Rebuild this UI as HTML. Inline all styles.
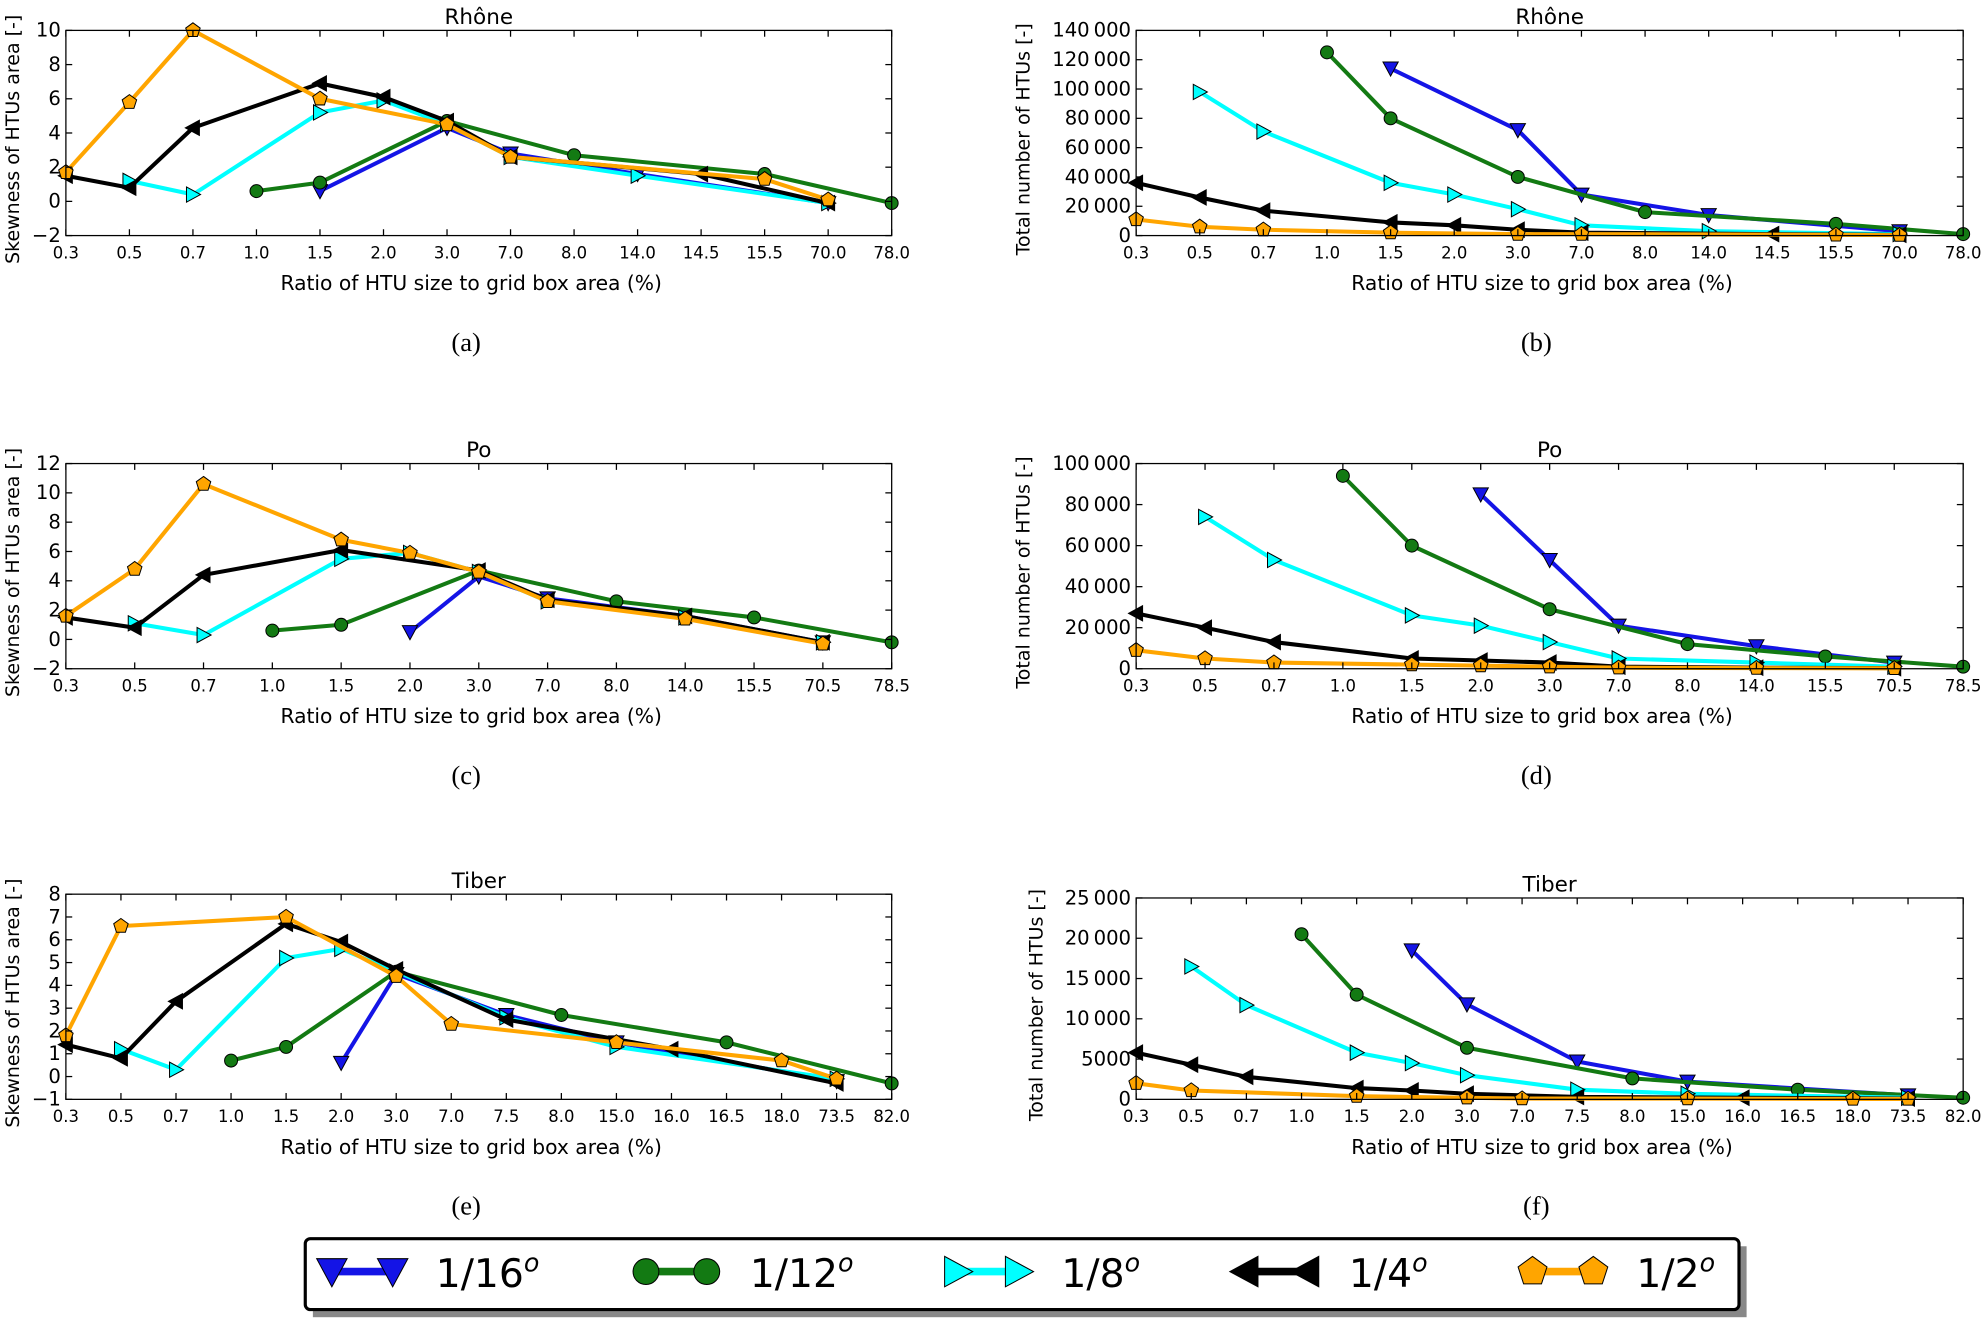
<!DOCTYPE html>
<html><head><meta charset="utf-8"><style>
html,body{margin:0;padding:0;background:#fff}
svg{display:block}
text{font-family:"DejaVu Sans","Liberation Sans",sans-serif}
</style></head><body>
<svg id="fig" width="1986" height="1321" viewBox="0 0 1568 1043" xmlns="http://www.w3.org/2000/svg"></svg>
<script>
// ---- data ----
const catsRhone = ["0.3","0.5","0.7","1.0","1.5","2.0","3.0","7.0","8.0","14.0","14.5","15.5","70.0","78.0"];
const catsPo = ["0.3","0.5","0.7","1.0","1.5","2.0","3.0","7.0","8.0","14.0","15.5","70.5","78.5"];
const catsTiber = ["0.3","0.5","0.7","1.0","1.5","2.0","3.0","7.0","7.5","8.0","15.0","16.0","16.5","18.0","73.5","82.0"];
const seriesNames = ["1/16","1/12","1/8","1/4","1/2"];
// each series: [[categoryIndex, value], ...]
const skewRhone16 = [[4,0.6],[6,4.3],[7,2.8],[9,1.6],[12,-0.1]];
const skewRhone12 = [[3,0.6],[4,1.1],[6,4.7],[8,2.7],[11,1.6],[13,-0.1]];
const skewRhone8 = [[1,1.2],[2,0.4],[4,5.2],[5,5.9],[6,4.5],[7,2.6],[9,1.5],[12,-0.1]];
const skewRhone4 = [[0,1.5],[1,0.8],[2,4.3],[4,6.9],[5,6.1],[6,4.7],[7,2.6],[10,1.6],[12,-0.1]];
const skewRhone2 = [[0,1.7],[1,5.8],[2,10],[4,6.0],[6,4.5],[7,2.6],[11,1.3],[12,0.1]];
const numRhone16 = [[4,114000],[6,72000],[7,28000],[9,14000],[12,3000]];
const numRhone12 = [[3,125000],[4,80000],[6,40000],[8,16000],[11,8000],[13,1000]];
const numRhone8 = [[1,98000],[2,71000],[4,36000],[5,28000],[6,18000],[7,7000],[9,3000],[12,1000]];
const numRhone4 = [[0,36000],[1,26000],[2,17000],[4,9000],[5,7000],[6,4000],[7,2000],[10,1000],[12,500]];
const numRhone2 = [[0,11000],[1,6000],[2,4000],[4,2000],[6,1000],[7,1000],[11,500],[12,300]];
const skewPo16 = [[5,0.5],[6,4.3],[7,2.8],[9,1.6],[11,-0.2]];
const skewPo12 = [[3,0.6],[4,1.0],[6,4.7],[8,2.6],[10,1.5],[12,-0.2]];
const skewPo8 = [[1,1.1],[2,0.3],[4,5.5],[5,5.9],[6,4.6],[7,2.6],[9,1.5],[11,-0.2]];
const skewPo4 = [[0,1.5],[1,0.8],[2,4.4],[4,6.1],[6,4.7],[7,2.7],[9,1.6],[11,-0.2]];
const skewPo2 = [[0,1.6],[1,4.8],[2,10.6],[4,6.8],[5,5.9],[6,4.6],[7,2.6],[9,1.4],[11,-0.3]];
const numPo16 = [[5,85000],[6,53000],[7,21000],[9,11000],[11,3000]];
const numPo12 = [[3,94000],[4,60000],[6,29000],[8,12000],[10,6000],[12,1000]];
const numPo8 = [[1,74000],[2,53000],[4,26000],[5,21000],[6,13000],[7,5000],[9,3000],[11,1000]];
const numPo4 = [[0,27000],[1,20000],[2,13000],[4,5000],[5,4000],[6,3000],[7,1000],[9,500],[11,300]];
const numPo2 = [[0,9000],[1,5000],[2,3000],[4,2000],[5,1500],[6,1000],[7,500],[9,300],[11,200]];
const skewTiber16 = [[5,0.6],[6,4.5],[8,2.7],[10,1.5],[14,-0.2]];
const skewTiber12 = [[3,0.7],[4,1.3],[6,4.6],[9,2.7],[12,1.5],[15,-0.3]];
const skewTiber8 = [[1,1.2],[2,0.3],[4,5.2],[5,5.6],[6,4.6],[8,2.6],[10,1.3],[14,-0.1]];
const skewTiber4 = [[0,1.4],[1,0.8],[2,3.3],[4,6.7],[5,5.9],[6,4.7],[8,2.5],[11,1.2],[14,-0.3]];
const skewTiber2 = [[0,1.8],[1,6.6],[4,7.0],[6,4.4],[7,2.3],[10,1.5],[13,0.7],[14,-0.1]];
const numTiber16 = [[5,18500],[6,11800],[8,4700],[10,2200],[14,500]];
const numTiber12 = [[3,20500],[4,13000],[6,6400],[9,2600],[12,1200],[15,200]];
const numTiber8 = [[1,16500],[2,11700],[4,5800],[5,4500],[6,3000],[8,1200],[10,700],[14,200]];
const numTiber4 = [[0,5800],[1,4300],[2,2800],[4,1400],[5,1100],[6,700],[8,300],[11,200],[14,100]];
const numTiber2 = [[0,2000],[1,1100],[4,400],[6,200],[7,100],[10,100],[13,50],[14,50]];
const ticksSkewRhone = [-2,0,2,4,6,8,10];
const ticksNumRhone = [0,20000,40000,60000,80000,100000,120000,140000];
const ticksSkewPo = [-2,0,2,4,6,8,10,12];
const ticksNumPo = [0,20000,40000,60000,80000,100000];
const ticksSkewTiber = [-1,0,1,2,3,4,5,6,7,8];
const ticksNumTiber = [0,5000,10000,15000,20000,25000];

// ---- styles ----
const colors = ["#1414e6","#137a13","#00ffff","#000000","#ffa500"];
const SVGNS = "http://www.w3.org/2000/svg";
const svg = document.getElementById("fig");
function mk(tag, attrs, parent){const e=document.createElementNS(SVGNS,tag);for(const k in attrs)e.setAttribute(k,attrs[k]);(parent||svg).appendChild(e);return e;}
function fmt(v){if(v<10000)return String(v);const s=String(v);return s.slice(0,s.length-3)+"\u2009"+s.slice(-3);}
function marker(kind, x, y, s, g){
  const c=colors[kind];let e;
  if(kind===1){e=mk("circle",{cx:x,cy:y,r:s*0.85,fill:c,stroke:"#000","stroke-width":0.8},g);}
  else{let pts;
    if(kind===0)pts=[[x-s,y-s*0.85],[x+s,y-s*0.85],[x,y+s]];
    else if(kind===2)pts=[[x-s*0.85,y-s],[x-s*0.85,y+s],[x+s,y]];
    else if(kind===3)pts=[[x+s*0.85,y-s],[x+s*0.85,y+s],[x-s,y]];
    else {pts=[];for(let i=0;i<5;i++){const a=-Math.PI/2+i*2*Math.PI/5;pts.push([x+s*Math.cos(a),y+s*Math.sin(a)]);}}
    e=mk("polygon",{points:pts.map(p=>p.join(",")).join(" "),fill:c,stroke:"#000","stroke-width":0.8},g);}
  return e;
}
const panels = [
 {id:"a",title:"Rh\u00f4ne",cats:catsRhone,ticks:ticksSkewRhone,series:[skewRhone16,skewRhone12,skewRhone8,skewRhone4,skewRhone2],x0:52,x1:704,y0:24,y1:186,ylab:"Skewness of HTUs area [-]",ylx:10},
 {id:"b",title:"Rh\u00f4ne",cats:catsRhone,ticks:ticksNumRhone,series:[numRhone16,numRhone12,numRhone8,numRhone4,numRhone2],x0:897,x1:1550,y0:24,y1:186,ylab:"Total number of HTUs [-]",ylx:808},
 {id:"c",title:"Po",cats:catsPo,ticks:ticksSkewPo,series:[skewPo16,skewPo12,skewPo8,skewPo4,skewPo2],x0:52,x1:704,y0:366,y1:528,ylab:"Skewness of HTUs area [-]",ylx:10},
 {id:"d",title:"Po",cats:catsPo,ticks:ticksNumPo,series:[numPo16,numPo12,numPo8,numPo4,numPo2],x0:897,x1:1550,y0:366,y1:528,ylab:"Total number of HTUs [-]",ylx:808},
 {id:"e",title:"Tiber",cats:catsTiber,ticks:ticksSkewTiber,series:[skewTiber16,skewTiber12,skewTiber8,skewTiber4,skewTiber2],x0:52,x1:704,y0:706,y1:868,ylab:"Skewness of HTUs area [-]",ylx:10},
 {id:"f",title:"Tiber",cats:catsTiber,ticks:ticksNumTiber,series:[numTiber16,numTiber12,numTiber8,numTiber4,numTiber2],x0:897,x1:1550,y0:709,y1:868,ylab:"Total number of HTUs [-]",ylx:818}
];
panels.forEach(p=>{
  const g=mk("g",{});
  
  
  const n=p.cats.length, lo=p.ticks[0], hi=p.ticks[p.ticks.length-1];
  const xs=i=>p.x0+i*(p.x1-p.x0)/(n-1);
  const ys=v=>p.y1-(v-lo)/(hi-lo)*(p.y1-p.y0);
  p.series.forEach((s,k)=>{
    const sg=mk("g",{},g);
    
    
    const pl=mk("polyline",{points:s.map(d=>xs(d[0])+","+ys(d[1])).join(" "),fill:"none",stroke:colors[k],"stroke-width":3.2,"stroke-linejoin":"round"},sg);
    
    
    s.forEach(d=>{const m=marker(k,xs(d[0]),ys(d[1]),6,sg);
      
      });
  });
  const fr=mk("rect",{x:p.x0,y:p.y0,width:p.x1-p.x0,height:p.y1-p.y0,fill:"none",stroke:"#000","stroke-width":1},g);
  
  
  p.cats.forEach((c,i)=>{
    mk("line",{x1:xs(i),x2:xs(i),y1:p.y1,y2:p.y1-5,stroke:"#000","stroke-width":1},g);
    mk("line",{x1:xs(i),x2:xs(i),y1:p.y0,y2:p.y0+5,stroke:"#000","stroke-width":1},g);
    const t=mk("text",{x:xs(i),y:p.y1+18,"font-size":13,"text-anchor":"middle"},g);t.textContent=c;
    
    
  });
  p.ticks.forEach(v=>{
    mk("line",{x1:p.x0,x2:p.x0+5,y1:ys(v),y2:ys(v),stroke:"#000","stroke-width":1},g);
    mk("line",{x1:p.x1,x2:p.x1-5,y1:ys(v),y2:ys(v),stroke:"#000","stroke-width":1},g);
    const t=mk("text",{x:p.x0-4,y:ys(v)+5,"font-size":15.5,"text-anchor":"end"},g);t.textContent=v<0?"\u2212"+(-v):fmt(v);
    
    
  });
  const tt=mk("text",{x:(p.x0+p.x1)/2,y:p.y0-5,"font-size":17,"text-anchor":"middle"},g);tt.textContent=p.title;
  
  
  const xl=mk("text",{x:(p.x0+p.x1)/2-6,y:p.y1+43,"font-size":16,"text-anchor":"middle"},g);xl.textContent="Ratio of HTU size to grid box area (%)";
  
  
  const cy=(p.y0+p.y1)/2;
  const yl=mk("text",{x:p.ylx,y:cy,"font-size":15,"text-anchor":"middle",transform:"rotate(-90 "+(p.ylx+5)+" "+cy+")"},g);yl.textContent=p.ylab;
  
  
  const sl=mk("text",{x:(p.id==="a"||p.id==="c"||p.id==="e")?368:1213,y:p.y1+91,"font-size":21,"text-anchor":"middle",style:"font-family:'Liberation Serif',serif"},g);sl.textContent="("+p.id+")";
  
  
});
const lg=mk("g",{});


mk("rect",{x:247,y:984,width:1132,height:56,fill:"#888"},lg);
mk("rect",{x:241,y:978,width:1132,height:56,fill:"#fff",stroke:"#000","stroke-width":2.5,rx:4},lg);
const legX=[252,500,746,973,1200];
seriesNames.forEach((nm,k)=>{
  const e=mk("g",{},lg);
  
  
  const x=legX[k], y=1004;
  mk("line",{x1:x+10,x2:x+58,y1:y,y2:y,stroke:colors[k],"stroke-width":6},e);
  marker(k,x+10,y,12,e);marker(k,x+58,y,12,e);
  const t=mk("text",{x:x+92,y:y+12,"font-size":31},e);
  t.textContent=nm;
  const sup=mk("tspan",{"font-size":20,"font-style":"italic",dy:-12},t);sup.textContent="o";
});
</script>
</body></html>
